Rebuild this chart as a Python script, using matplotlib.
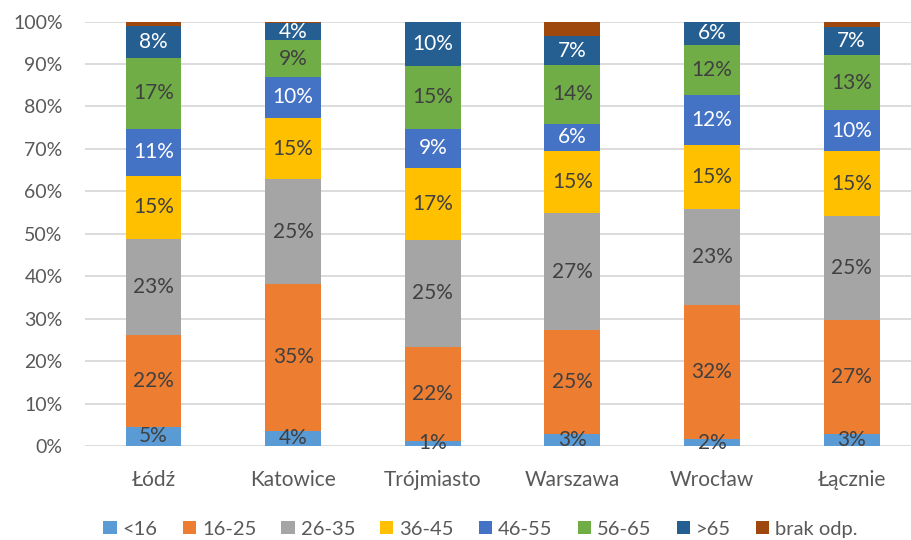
import matplotlib.pyplot as plt
import numpy as np
from matplotlib.ticker import PercentFormatter

plt.rcParams['font.family'] = ['Lato', 'DejaVu Sans']

cities = ["Łódź", "Katowice", "Trójmiasto", "Warszawa", "Wrocław", "Łącznie"]
groups = ["<16", "16-25", "26-35", "36-45", "46-55", "56-65", ">65", "brak odp."]

# share of each age group per city, in percent
lt16 = [4.6, 3.6, 1.2, 2.8, 1.6, 2.8]
a16_25 = [21.6, 34.6, 22.1, 24.6, 31.6, 26.8]
a26_35 = [22.6, 24.6, 25.3, 27.4, 22.7, 24.6]
a36_45 = [14.9, 14.6, 16.9, 14.7, 15.1, 15.2]
a46_55 = [11.1, 9.6, 9.3, 6.4, 11.8, 9.8]
a56_65 = [16.6, 8.6, 14.8, 13.9, 11.6, 12.9]
gt65 = [7.6, 4.0, 10.4, 6.7, 5.6, 6.7]
brak = [1.0, 0.4, 0.0, 3.5, 0.0, 1.2]

series = [lt16, a16_25, a26_35, a36_45, a46_55, a56_65, gt65, brak]
colors = ['#5B9BD5', '#ED7D31', '#A5A5A5', '#FFC000', '#4472C4', '#70AD47', '#255E91', '#9E480E']
label_colors = ['#404040', '#404040', '#404040', '#404040', 'white', '#404040', 'white', None]

fig = plt.figure(figsize=(9.12, 5.4), dpi=100)
ax = fig.add_axes([0.093, 0.174, 0.907, 0.786])

x = np.arange(len(cities))
bottom = np.zeros(len(cities))
for vals, name, col, lcol in zip(series, groups, colors, label_colors):
    vals = np.array(vals)
    ax.bar(x, vals, 0.40, bottom=bottom, color=col, label=name, zorder=2)
    if lcol is not None:
        for xi, b, v in zip(x, bottom, vals):
            ax.text(xi, b + v / 2, "%d%%" % round(v), ha='center', va='center',
                    color=lcol, fontsize=15, zorder=3)
    bottom += vals

ax.set_xlim(-0.492, 5.432)
ax.set_ylim(0, 100)
ax.set_yticks(np.arange(0, 101, 10))
ax.yaxis.set_major_formatter(PercentFormatter(decimals=0))
ax.set_xticks(x)
ax.set_xticklabels(cities)
ax.tick_params(length=0, labelcolor='#595959')
ax.tick_params(axis='y', pad=16, labelsize=14)
ax.tick_params(axis='x', pad=17, labelsize=15)
ax.yaxis.grid(True, color='#d9d9d9', lw=1.3, zorder=0)
for s in ax.spines.values():
    s.set_visible(False)

fig.legend(loc='center', bbox_to_anchor=(0.527, 0.02), ncol=8, frameon=False,
           fontsize=14.5, labelcolor='#595959', handlelength=0.65, handleheight=0.65,
           handletextpad=0.3, columnspacing=1.25)

fig.savefig('out.png', dpi=100)
